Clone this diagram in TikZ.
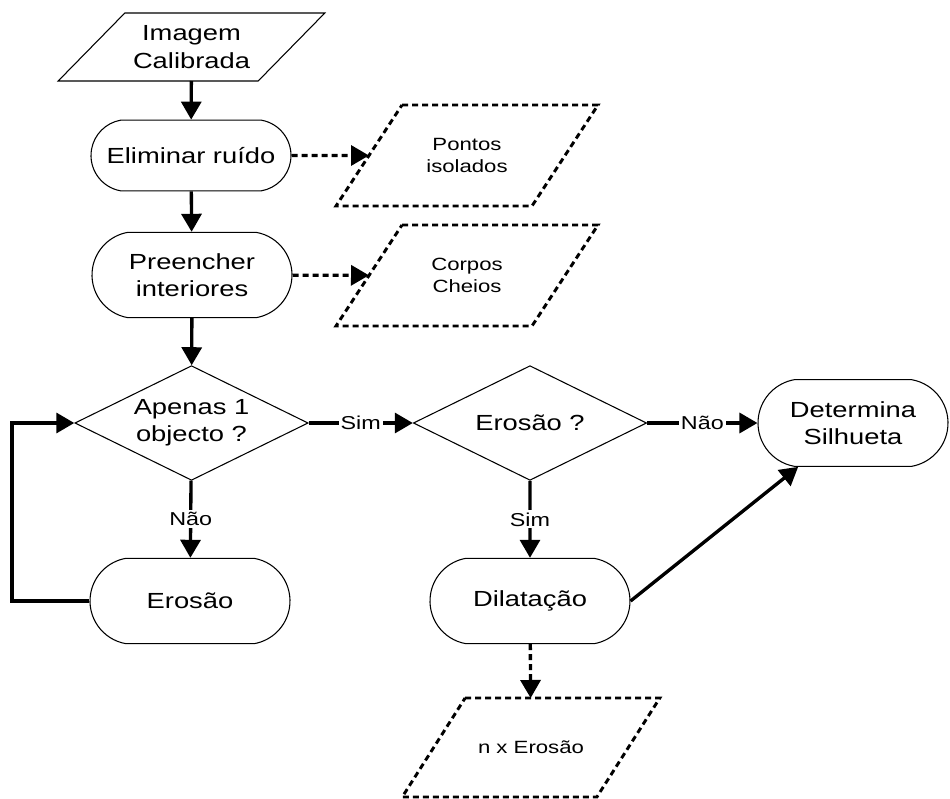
\documentclass[tikz,border=0pt]{standalone}
\usepackage{fontspec}
\setmainfont{Liberation Sans}[FakeStretch=1.25]
\usetikzlibrary{shapes.geometric,shapes.misc,arrows.meta}

% slanted outline around a plain box node: #2 = node, #3 = half slant
\newcommand{\slantbox}[3][]{%
  \draw[#1] ([xshift=#3]#2.north west) -- ([xshift=#3]#2.north east)
    -- ([xshift=-#3]#2.south east) -- ([xshift=-#3]#2.south west) -- cycle;}

\begin{document}
\begin{tikzpicture}[x=0.75pt,y=-0.75pt,
    proc/.style={rounded rectangle, rounded rectangle arc length=160, draw,
      line width=0.8pt, align=center, inner sep=0pt, minimum width=150pt,
      minimum height=64pt, font=\fontsize{16.4}{20.5}\selectfont},
    test/.style={diamond, aspect=2, draw, line width=0.8pt, align=center,
      inner sep=0pt, minimum width=175pt, minimum height=86pt,
      font=\fontsize{16.4}{20.5}\selectfont},
    io/.style={rectangle, align=center, inner sep=0pt, outer sep=0pt,
      minimum width=150pt, minimum height=51pt,
      font=\fontsize{16.4}{20.5}\selectfont},
    data/.style={rectangle, align=center, inner sep=0pt, outer sep=0pt,
      minimum width=147pt, minimum height=75.75pt,
      font=\fontsize{13.3}{16.8}\selectfont},
    thin/.style={line width=0.8pt},
    dashbox/.style={line width=2.2pt, dash pattern=on 4.5pt off 3pt},
    flow/.style={line width=2.5pt, -{Triangle[length=13.5pt,width=15pt]}},
    dflow/.style={flow, dash pattern=on 4.5pt off 3pt},
    lbl/.style={fill=white, inner sep=1.5pt, font=\fontsize{14}{16}\selectfont}]
  \useasboundingbox (0,0) rectangle (950,799);

  % left column
  \node[io] (img) at (191.5,47) {Imagem\\Calibrada};
  \node[proc, minimum height=53pt] (elim) at (191,155.5) {Eliminar ruído};
  \node[proc] (pree) at (192,275) {Preencher\\interiores};
  \node[test] (q1) at (191.5,423) {Apenas 1\\objecto ?};
  \node[proc] (ero) at (190,601) {Erosão};
  \coordinate (loop) at (12,423);

  % right part
  \node[test] (q2) at (530,423) {Erosão ?};
  \node[proc] (dil) at (530,601) {Dilatação};
  \node[proc, minimum width=142.5pt, minimum height=65pt] (det) at (853,423) {Determina\\Silhueta};

  % side results
  \node[data] (pont) at (467,155.5) {Pontos\\isolados};
  \node[data] (corp) at (467,275.5) {Corpos\\Cheios};
  \node[data, minimum width=146pt, minimum height=74.25pt] (nx) at (531,747.5) {n x Erosão};

  \slantbox[thin]{img}{25pt}
  \slantbox[dashbox]{pont}{24.75pt}
  \slantbox[dashbox]{corp}{24.75pt}
  \slantbox[dashbox]{nx}{23.6pt}

  \draw[flow] (img) -- (elim);
  \draw[flow] (elim) -- (pree);
  \draw[flow] (pree) -- (q1);
  \draw[flow] (q1) -- node[lbl] {Sim} (q2);
  \draw[flow] (q1) -- node[lbl] {Não} (ero);
  \draw[flow] (q2) -- node[lbl] {Não} (det);
  \draw[flow] (q2) -- node[lbl] {Sim} (dil);
  \draw[flow] (dil.east) -- (det);
  \draw[flow] (ero.west) -| (loop) -- (q1);

  \draw[dflow] (elim) -- (pont);
  \draw[dflow] (pree) -- (corp);
  \draw[dflow] (dil) -- (nx);
\end{tikzpicture}
\end{document}
